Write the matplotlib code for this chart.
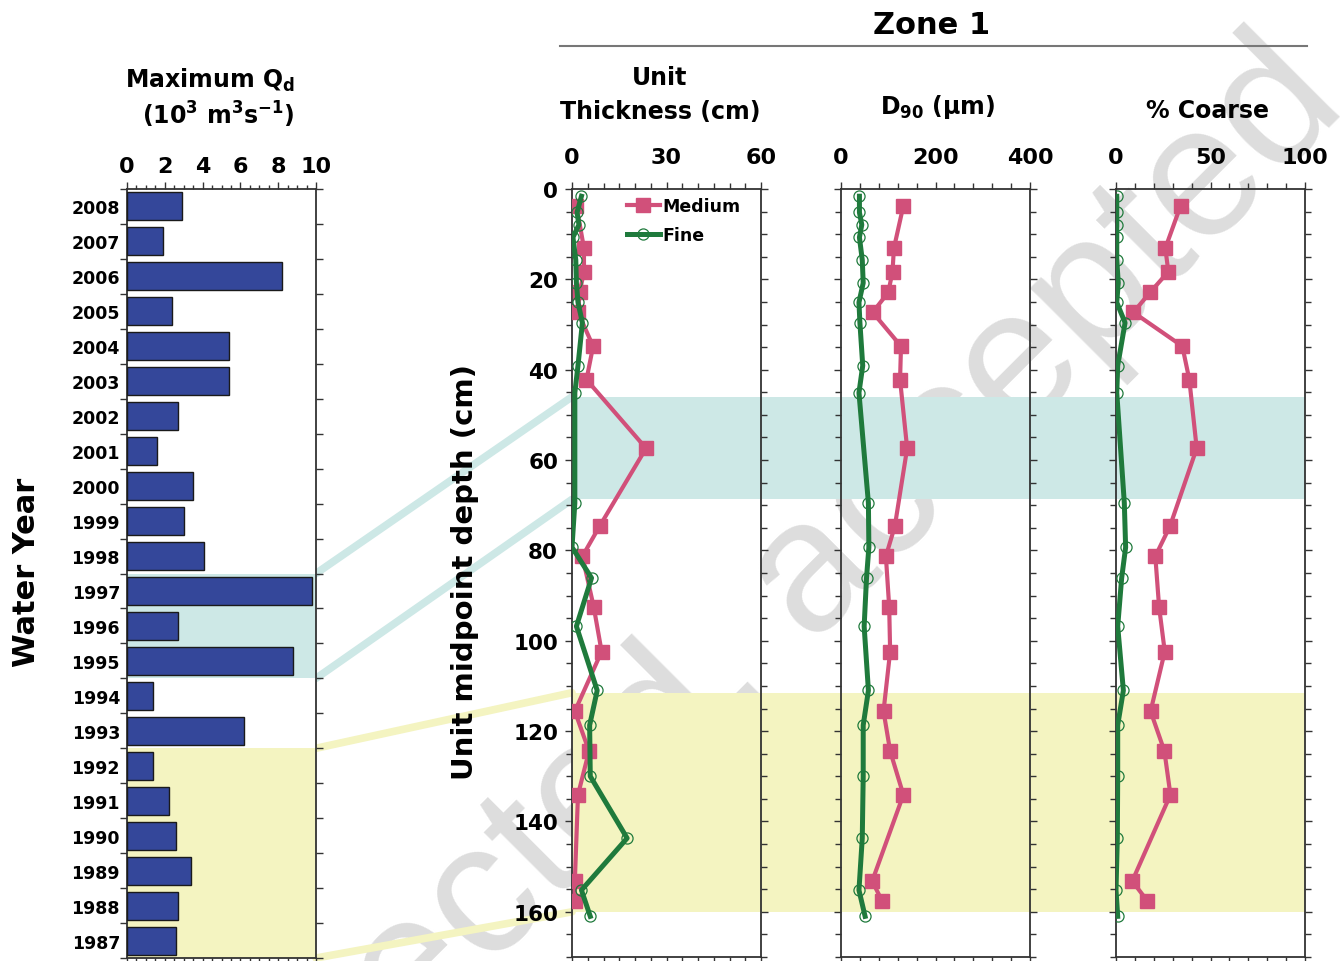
import numpy as np
import matplotlib
matplotlib.use("Agg")
import matplotlib.pyplot as plt
from matplotlib.patches import Rectangle, ConnectionPatch
from matplotlib.lines import Line2D
from matplotlib.ticker import MultipleLocator
import matplotlib.transforms as mtransforms

plt.rcParams['font.family'] = ['DejaVu Sans']
plt.rcParams['font.weight'] = 'bold'
plt.rcParams['mathtext.fontset'] = 'dejavusans'
plt.rcParams['mathtext.default'] = 'bf'

# ---- data -------------------------------------------------------------
years = list(range(2008, 1986, -1))
max_qd = [2.9, 1.9, 8.2, 2.4, 5.4, 5.4, 2.7, 1.6, 3.5, 3.0, 4.1,
          9.8, 2.7, 8.8, 1.4, 6.2, 1.4, 2.2, 2.6, 3.4, 2.7, 2.6]

medium_depth = [3.7, 13.1, 18.3, 22.9, 27.3, 34.8, 42.2, 57.4, 74.6, 81.3,
                92.5, 102.4, 115.6, 124.4, 134.1, 153.2, 157.6]
medium_thickness = [1.4, 3.8, 3.8, 2.4, 1.9, 6.7, 4.6, 23.5, 8.8, 3.3,
                    6.9, 9.4, 0.9, 5.4, 1.9, 0.9, 0.9]
medium_d90 = [132, 112, 109, 100, 67, 127, 125, 140, 114, 95,
              102, 104, 90, 104, 132, 66, 87]
medium_coarse = [34.2, 26.1, 27.7, 18.0, 9.2, 35.1, 38.8, 42.7, 28.6, 20.8,
                 22.8, 25.8, 18.3, 25.6, 28.8, 8.6, 16.6]

fine_depth = [1.6, 5.2, 7.9, 10.7, 15.7, 20.8, 25.1, 29.6, 39.1, 45.1,
              69.5, 79.3, 86.1, 96.8, 111.0, 118.7, 130.0, 143.7, 155.2, 161.0]
fine_thickness = [3.0, 1.6, 2.2, 0.3, 1.2, 1.4, 1.9, 3.3, 1.9, 0.9,
                  0.9, 0.0, 6.2, 1.4, 8.0, 5.6, 5.8, 17.5, 3.0, 5.8]
fine_d90 = [39, 39, 44, 39, 45, 47, 38, 40, 46, 38,
            58, 59, 54, 49, 58, 47, 47, 45, 38, 51]
fine_coarse = [0.4, 0.4, 0.4, 0.4, 0.4, 1.2, 0.4, 4.8, 0.9, 0.4,
               4.4, 5.1, 3.0, 0.9, 3.9, 0.9, 0.9, 0.7, 0.0, 0.9]

teal_years = (1997, 1995)
yellow_years = (1992, 1987)
teal_depth = (46, 68.7)
yellow_depth = (111.5, 160)

panel_titles = ["Unit\nThickness (cm)", "D$_{90}$ (µm)", "% Coarse"]
panel_limits = [(0, 60), (0, 400), (0, 100)]
panel_major = [30, 200, 50]
panel_minor = [5, 40, 10]

# ---- style ------------------------------------------------------------
BAR = '#34479A'
PINK = '#D1507A'
GREEN = '#1F7A3C'
TEAL = '#CDE8E6'
YELLOW = '#F4F4C1'
SPINE = '#333333'

W, H = 1340, 962
fig = plt.figure(figsize=(W / 100, H / 100), dpi=100)


def rect(x0, x1, y0, y1):
    return [x0 / W, 1 - y1 / H, (x1 - x0) / W, (y1 - y0) / H]


ax_bar = fig.add_axes(rect(127, 316, 190, 959))
ax1 = fig.add_axes(rect(572, 761, 190, 958))
ax2 = fig.add_axes(rect(841, 1030, 190, 958))
ax3 = fig.add_axes(rect(1116, 1305, 190, 958))
panels = [ax1, ax2, ax3]

# ---- discharge bars ---------------------------------------------------
ypos = np.arange(len(years))
ax_bar.barh(ypos, max_qd, height=0.8, color=BAR, edgecolor='#1a1a1a',
            linewidth=1.0, zorder=3)
ax_bar.set_xlim(0, 10)
ax_bar.set_ylim(len(years) - 0.5, -0.5)


def year_idx(y):
    return years.index(y)


ax_bar.axhspan(year_idx(teal_years[0]) - 0.5, year_idx(teal_years[1]) + 0.5,
               color=TEAL, lw=0, zorder=0)
ax_bar.axhspan(year_idx(yellow_years[0]) - 0.5, year_idx(yellow_years[1]) + 0.5,
               color=YELLOW, lw=0, zorder=0)

ax_bar.set_yticks(ypos)
ax_bar.set_yticklabels([str(y) for y in years], fontsize=12.5, fontweight='bold')
ax_bar.set_yticks(np.arange(-0.5, len(years), 1), minor=True)
ax_bar.tick_params(axis='y', which='major', length=0, pad=5)
ax_bar.tick_params(axis='y', which='minor', left=True, right=True,
                   direction='out', length=5, width=1, color=SPINE)
ax_bar.xaxis.tick_top()
ax_bar.xaxis.set_major_locator(MultipleLocator(2))
ax_bar.xaxis.set_minor_locator(MultipleLocator(0.5))
ax_bar.tick_params(axis='x', which='both', top=True, bottom=True,
                   labeltop=True, labelbottom=False, direction='out',
                   width=1, color=SPINE, labelsize=16, pad=4)
ax_bar.tick_params(axis='x', which='major', length=5)
ax_bar.tick_params(axis='x', which='minor', length=3)
for s in ax_bar.spines.values():
    s.set_linewidth(1.3)
    s.set_color(SPINE)

fig.text(210 / W, 1 - 80 / H, 'Maximum Q$_\\mathbf{d}$', ha='center', va='center',
         fontsize=17, fontweight='bold')
fig.text(218 / W, 1 - 115 / H, '(10$^3$ m$^3$s$^{-1}$)', ha='center', va='center',
         fontsize=17, fontweight='bold')
fig.text(27 / W, 1 - 572 / H, 'Water Year', rotation=90, ha='center',
         va='center', fontsize=22, fontweight='bold')

# ---- depth profiles ---------------------------------------------------
series = [(medium_thickness, fine_thickness), (medium_d90, fine_d90),
          (medium_coarse, fine_coarse)]
for i, (ax, (med, fin)) in enumerate(zip(panels, series)):
    ax.set_facecolor('none')
    ax.plot(med, medium_depth, color=PINK, lw=3, marker='s', ms=10,
            mfc=PINK, mec=PINK, zorder=3, label='Medium')
    ax.plot(fin, fine_depth, color=GREEN, lw=3.6, marker='o', ms=8,
            mfc='none', mec=GREEN, mew=0.9, zorder=4, label='Fine')
    ax.set_xlim(*panel_limits[i])
    ax.set_ylim(170, 0)
    ax.xaxis.tick_top()
    ax.xaxis.set_major_locator(MultipleLocator(panel_major[i]))
    ax.xaxis.set_minor_locator(MultipleLocator(panel_minor[i]))
    ax.yaxis.set_major_locator(MultipleLocator(20))
    ax.yaxis.set_minor_locator(MultipleLocator(5))
    ax.tick_params(axis='both', which='both', direction='out', top=True,
                   bottom=True, left=True, right=True, labeltop=True,
                   labelbottom=False, labelleft=(i == 0), width=1, color=SPINE)
    ax.tick_params(axis='both', which='major', length=5)
    ax.tick_params(axis='both', which='minor', length=4)
    ax.tick_params(axis='x', labelsize=16, pad=11)
    ax.tick_params(axis='y', labelsize=15.5, pad=5)
    for s in ax.spines.values():
        s.set_linewidth(1.3)
        s.set_color(SPINE)

ax1.legend(loc='upper left', bbox_to_anchor=(627 / W, 1 - 198 / H),
           bbox_transform=fig.transFigure, frameon=False,
           handlelength=1.9, handletextpad=0.15, labelspacing=0.62,
           borderpad=0, borderaxespad=0, prop={'weight': 'bold', 'size': 12.5})

# highlighted depth intervals across all three profiles
x_left = ax1.get_position().x0
x_right = ax3.get_position().x1
band_tf = mtransforms.blended_transform_factory(fig.transFigure, ax1.transData)
for (d0, d1), col in [(teal_depth, TEAL), (yellow_depth, YELLOW)]:
    fig.add_artist(Rectangle((x_left, d0), x_right - x_left, d1 - d0,
                             transform=band_tf, color=col, lw=0, zorder=-1))

# links from flood years to their deposits
links = [((10, year_idx(teal_years[0]) - 0.5), (0, teal_depth[0]), TEAL),
         ((10, year_idx(teal_years[1]) + 0.5), (0, teal_depth[1]), TEAL),
         ((10, year_idx(yellow_years[0]) - 0.5), (0, yellow_depth[0]), YELLOW),
         ((10, year_idx(yellow_years[1]) + 0.5), (0, yellow_depth[1]), YELLOW)]
for a, b, col in links:
    fig.add_artist(ConnectionPatch(xyA=a, coordsA=ax_bar.transData, xyB=b,
                                   coordsB=ax1.transData, color=col, lw=5.5,
                                   zorder=-0.8))

# headings
fig.text(660 / W, 1 - 95 / H, panel_titles[0], ha='center', va='center',
         fontsize=17, fontweight='bold', linespacing=1.5)
fig.text(938 / W, 1 - 107 / H, panel_titles[1], ha='center', va='center',
         fontsize=17, fontweight='bold')
fig.text(1208 / W, 1 - 111 / H, panel_titles[2], ha='center', va='center',
         fontsize=17, fontweight='bold')
fig.text(465 / W, 1 - 572 / H, 'Unit midpoint depth (cm)', rotation=90,
         ha='center', va='center', fontsize=21, fontweight='bold')
fig.text(932 / W, 1 - 26 / H, 'Zone 1', ha='center', va='center',
         fontsize=22, fontweight='bold')
fig.add_artist(Line2D([560 / W, 1307 / W], [1 - 47 / H, 1 - 47 / H],
                      transform=fig.transFigure, color='#777777', lw=1.5))

# watermark, kept underneath the highlight bands
fig.text(733 / W, 1 - 657 / H, 'corrected, accepted', rotation=45,
         rotation_mode='anchor', ha='center', va='center', fontsize=135,
         family='Liberation Sans', fontweight='normal', color='#DDDDDD',
         zorder=-1.5)

fig.savefig('out.png', dpi=100)
